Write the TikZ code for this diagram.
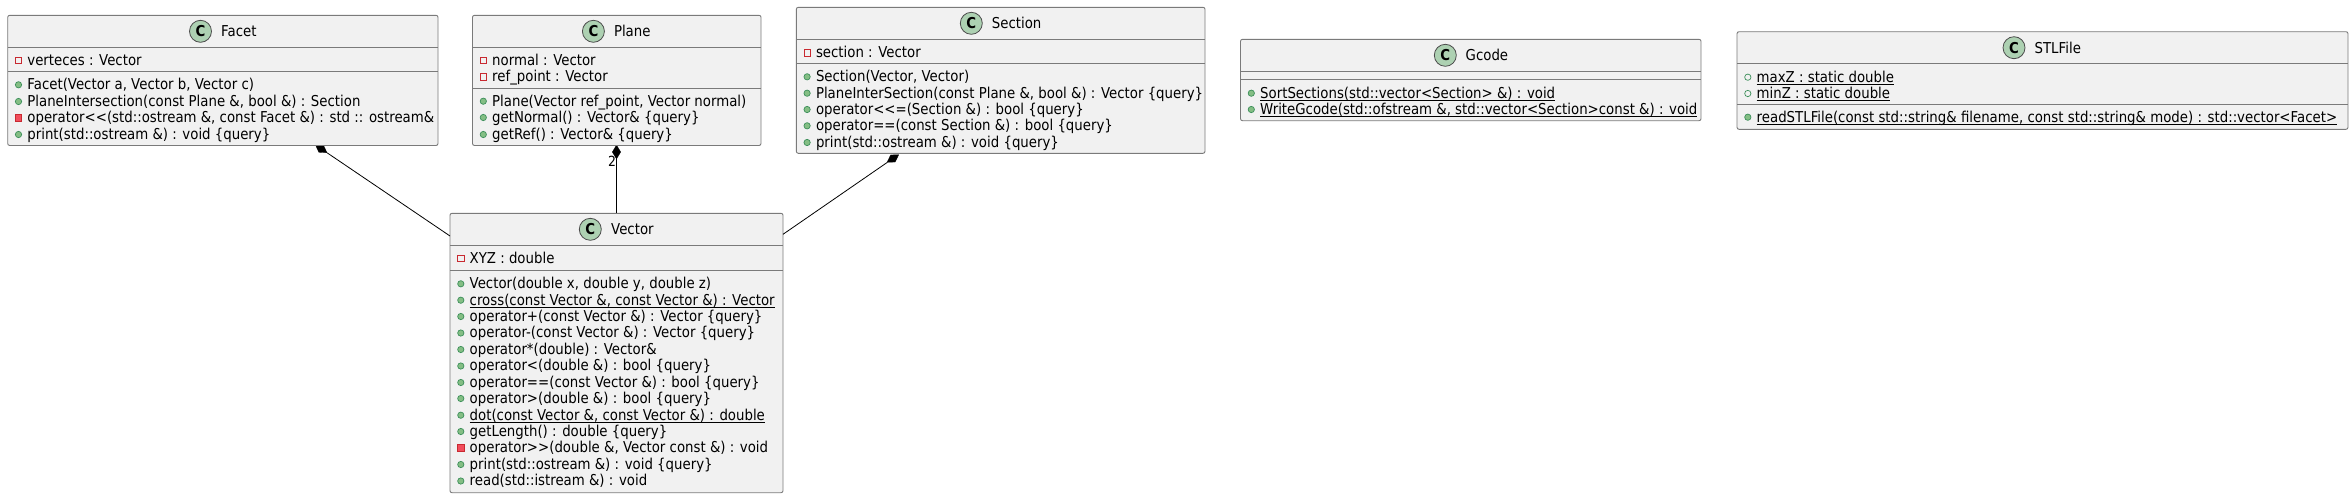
\documentclass[tikz,border=0pt]{standalone}
\usepackage{fontspec}
\setmainfont{DejaVu Sans}[FakeStretch=0.888]
\usetikzlibrary{shapes.geometric}
\definecolor{boxfill}{HTML}{F1F1F1}
\definecolor{boxline}{HTML}{7A7A7A}
\definecolor{pubfill}{HTML}{84BE84}
\definecolor{publine}{HTML}{3C8F5A}
\definecolor{privfill}{HTML}{F24D5C}
\definecolor{privline}{HTML}{C82930}
\definecolor{iconfill}{HTML}{ADD1B2}
\newsavebox\myulbox
\newcommand{\ul}[1]{\sbox\myulbox{#1}\rlap{\rule[-2.9pt]{\wd\myulbox}{0.9pt}}\usebox\myulbox}
\tikzset{x=1pt,y=-1pt,
 classbox/.style={draw=boxline,fill=boxfill,line width=0.9pt,rounded corners=2pt},
 sepline/.style={draw=boxline,line width=0.9pt},
 rowtext/.style={anchor=base west,inner sep=0pt,font=\fontsize{15}{15}\selectfont,text=black},
 titletext/.style={anchor=west,inner sep=0pt,font=\fontsize{15}{15}\selectfont,text=black},
 pubicon/.style={circle,draw=publine,fill=pubfill,line width=.7pt,minimum size=6.3pt,inner sep=0pt},
 pubopen/.style={circle,draw=publine,fill=none,line width=.7pt,minimum size=6.3pt,inner sep=0pt},
 privicon/.style={rectangle,draw=privline,fill=privfill,line width=.7pt,minimum size=6.5pt,inner sep=0pt},
 privopen/.style={rectangle,draw=privline,fill=none,line width=.7pt,minimum size=6.5pt,inner sep=0pt},
 cicon/.style={circle,draw=black!70,fill=iconfill,line width=.8pt,minimum size=22pt,inner sep=0pt,font=\fontsize{15}{15}\bfseries\selectfont},
 comp/.style={diamond,fill=black,draw=black,line width=.3pt,inner sep=0pt,minimum width=14pt,minimum height=8.5pt},
 link/.style={draw=black,line width=0.8pt}}
% name, x1,y1,x2,y2,sep1,sep2, iconx, textx, title
\newcommand{\classbox}[9]{%
 \path[classbox] (#2,#3) rectangle (#4,#5);
 \draw[sepline] (#2,#6) -- (#4,#6);
 \draw[sepline] (#2,#7) -- (#4,#7);
 \node[cicon] (#1icon) at (#8,{#3+16}) {C};
 \node[titletext] (#1) at (#9,{#3+16}) {#1};
 \def\boxleft{#2}}
% row macro: name, style, y, text
\newcommand{\mem}[4]{%
 \node[#2] (#1i) at ({\boxleft+10.8},{#3+0.5}) {};
 \node[rowtext] (#1) at ({\boxleft+19.5},{#3+5.3}) {#4};}
\begin{document}
\begin{tikzpicture}
\useasboundingbox (0,0) rectangle (2352,498);
\node[comp,rotate=-34] (fd) at (321.2,148.8) {};
\node[comp,rotate=90] (pd) at (616.5,152) {};
\node[comp,rotate=33] (sd) at (892.9,158.5) {};
\classbox{Facet}{7.7}{15.3}{438}{145.5}{47.3}{71.3}{200.5}{221}
\mem{f1}{privopen}{60}{verteces : Vector}
\mem{f2}{pubicon}{84.3}{Facet(Vector a, Vector b, Vector c)}
\mem{f3}{pubicon}{101}{PlaneIntersection(const Plane \&, bool \&) : Section}
\mem{f4}{privicon}{117.3}{operator<\kern0pt<(std::ostream \&, const Facet \&) : std :: ostream\&}
\mem{f5}{pubicon}{134}{print(std::ostream \&) : void \{query\}}
\classbox{Plane}{472.5}{15.3}{761}{145.5}{47.3}{88.7}{593.4}{613.8}
\mem{p1}{privopen}{60}{normal : Vector}
\mem{p2}{privopen}{76.3}{ref\_point : Vector}
\mem{p3}{pubicon}{100.7}{Plane(Vector ref\_point, Vector normal)}
\mem{p4}{pubicon}{117}{getNormal() : Vector\& \{query\}}
\mem{p5}{pubicon}{134}{getRef() : Vector\& \{query\}}
\classbox{Section}{796.3}{7.3}{1205}{153.3}{39.3}{63.3}{971.3}{991.7}
\mem{s1}{privopen}{52.3}{section : Vector}
\mem{s2}{pubicon}{76.3}{Section(Vector, Vector)}
\mem{s3}{pubicon}{92.7}{PlaneInterSection(const Plane \&, bool \&) : Vector \{query\}}
\mem{s4}{pubicon}{109}{operator<\kern0pt<=(Section \&) : bool \{query\}}
\mem{s5}{pubicon}{125.3}{operator==(const Section \&) : bool \{query\}}
\mem{s6}{pubicon}{142}{print(std::ostream \&) : void \{query\}}
\classbox{Gcode}{1240.5}{39.3}{1701}{120.7}{71.3}{79.3}{1445.3}{1465.5}
\mem{g1}{pubicon}{92.7}{\ul{SortSections(std::vector<Section> \&) : void}}
\mem{g2}{pubicon}{109}{\ul{WriteGcode(std::ofstream \&, std::vector<Section>const \&) : void}}
\classbox{STLFile}{1737}{31.7}{2348}{129.3}{63.3}{104}{2014}{2034.4}
\mem{t1}{pubopen}{76.7}{\ul{maxZ : static double}}
\mem{t2}{pubopen}{93}{\ul{minZ : static double}}
\mem{t3}{pubicon}{116.7}{\ul{readSTLFile(const std::string\& filename, const std::string\& mode) : std::vector<Facet>}}
\classbox{Vector}{450}{213.3}{783}{492.7}{245.3}{270.7}{590.3}{611}
\mem{v1}{privopen}{258}{XYZ : double}
\mem{v2}{pubicon}{283.3}{Vector(double x, double y, double z)}
\mem{v3}{pubicon}{299.7}{\ul{cross(const Vector \&, const Vector \&) : Vector}}
\mem{v4}{pubicon}{316}{operator+(const Vector \&) : Vector \{query\}}
\mem{v5}{pubicon}{332.5}{operator-(const Vector \&) : Vector \{query\}}
\mem{v6}{pubicon}{349}{operator*(double) : Vector\&}
\mem{v7}{pubicon}{365.5}{operator<(double \&) : bool \{query\}}
\mem{v8}{pubicon}{382}{operator==(const Vector \&) : bool \{query\}}
\mem{v9}{pubicon}{398}{operator>(double \&) : bool \{query\}}
\mem{v10}{pubicon}{414.7}{\ul{dot(const Vector \&, const Vector \&) : double}}
\mem{v11}{pubicon}{431}{getLength() : double \{query\}}
\mem{v12}{privicon}{447.5}{operator>\kern0pt>(double \&, Vector const \&) : void}
\mem{v13}{pubicon}{464}{print(std::ostream \&) : void \{query\}}
\mem{v14}{pubicon}{480.5}{read(std::istream \&) : void}
\coordinate (fe) at (450,236);
\coordinate (pe) at (616.5,213.3);
\coordinate (se) at (783,234.3);
\draw[link] (fd) -- (fe);
\draw[link] (pd) -- (pe);
\draw[link] (sd) -- (se);
\node[font=\fontsize{14}{14}\selectfont,inner sep=0pt] (two) at (612,161.7) {2};
\end{tikzpicture}
\end{document}
